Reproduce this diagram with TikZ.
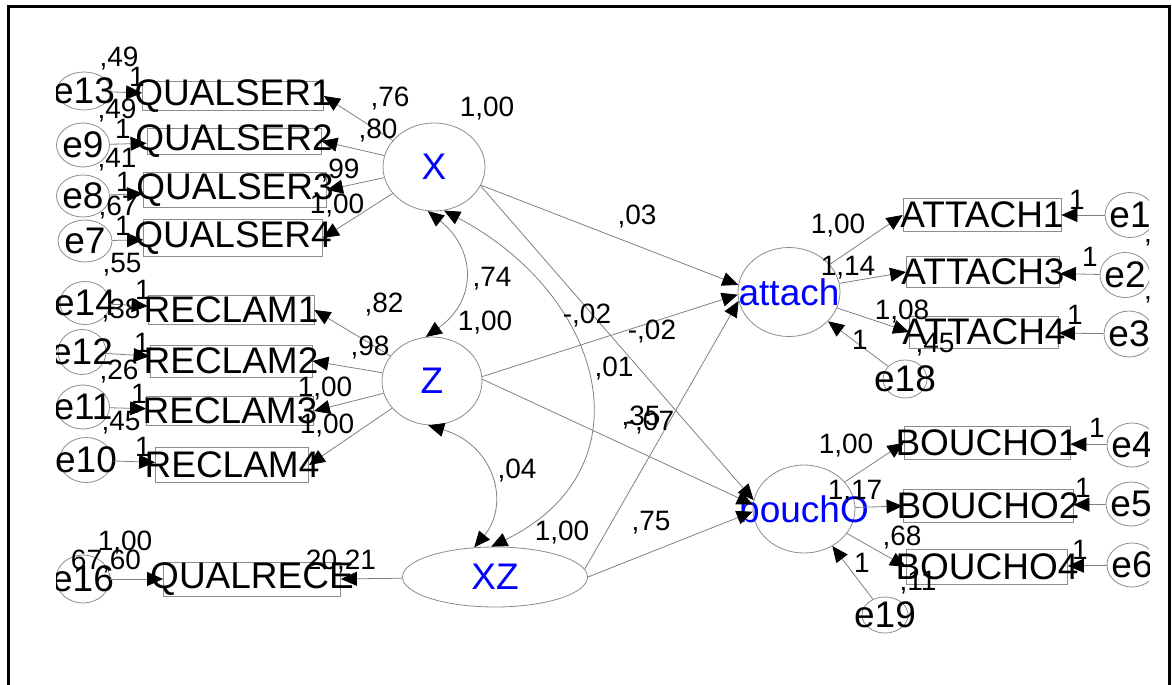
\documentclass[tikz,border=0pt]{standalone}
\usepackage{fontspec}
\setmainfont{Liberation Sans}
\usetikzlibrary{shapes.geometric,arrows.meta}

\newcommand{\bigtxt}{\fontsize{37}{37}\selectfont}
\newcommand{\numtxt}{\fontsize{28}{28}\selectfont}

\tikzset{
  box/.style = {draw = black!45, line width = .8pt, inner sep = 0pt},
  lv/.style = {draw = black!45, ellipse, line width = .8pt, inner sep = 0pt},
  num/.style = {font = \numtxt, inner sep = 0pt},
  every label/.style = {font = \bigtxt, inner sep = 0pt},
  arr/.style = {draw = black!50, line width = .8pt, -{Triangle[length = 16pt, width = 14pt, color = black]}},
  dbl/.style = {draw = black!50, line width = .8pt, {Triangle[length = 16pt, width = 14pt, color = black]}-{Triangle[length = 16pt, width = 14pt, color = black]}}
}

\begin{document}
\begin{tikzpicture}[x = 1pt, y = -1pt]
\useasboundingbox (0,0) rectangle (1172,685);
\draw [line width = 3pt] (8,685) -- (8,7) -- (1169,7) -- (1169,685);
\begin{scope}
\clip (56,0) rectangle (1149,685);
% latent variables
\node [lv, minimum width = 102pt, minimum height = 88pt, label = {[text = blue]center:X}] (X) at (434,167) {};
\node [lv, minimum width = 100pt, minimum height = 88pt, label = {[text = blue]center:Z}] (Z) at (432,381) {};
\node [lv, minimum width = 185pt, minimum height = 60pt, label = {[text = blue]center:XZ}] (XZ) at (495,577) {};
\node [lv, minimum width = 102pt, minimum height = 89pt, label = {[text = blue]center:attach}] (attach) at (789,292) {};
\node [lv, minimum width = 102pt, minimum height = 88pt, label = {[text = blue]center:bouchO}] (bouchO) at (804,509) {};
% indicators
\node [box, minimum width = 181pt, minimum height = 29pt, label = center:QUALSER1] (qs1) at (233,96) {};
\node [box, minimum width = 174pt, minimum height = 26pt, label = center:QUALSER2] (qs2) at (234,141) {};
\node [box, minimum width = 183pt, minimum height = 35pt, label = center:QUALSER3] (qs3) at (235,190) {};
\node [box, minimum width = 179pt, minimum height = 37pt, label = center:QUALSER4] (qs4) at (233,238) {};
\node [box, minimum width = 166pt, minimum height = 29pt, label = center:RECLAM1] (rc1) at (231,310) {};
\node [box, minimum width = 162pt, minimum height = 32pt, label = center:RECLAM2] (rc2) at (231,361) {};
\node [box, minimum width = 167pt, minimum height = 29pt, label = center:RECLAM3] (rc3) at (230,411) {};
\node [box, minimum width = 153pt, minimum height = 35pt, label = center:RECLAM4] (rc4) at (232,465) {};
\node [box, minimum width = 177pt, minimum height = 34pt, label = center:QUALRECE] (qr) at (252,579) {};
\node [box, minimum width = 158pt, minimum height = 33pt, label = center:ATTACH1] (at1) at (982,215) {};
\node [box, minimum width = 153pt, minimum height = 31pt, label = center:ATTACH3] (at3) at (983,272) {};
\node [box, minimum width = 149pt, minimum height = 32pt, label = center:ATTACH4] (at4) at (984,332) {};
\node [box, minimum width = 166pt, minimum height = 33pt, label = center:BOUCHO1] (bo1) at (987,443) {};
\node [box, minimum width = 170pt, minimum height = 33pt, label = center:BOUCHO2] (bo2) at (988,506) {};
\node [box, minimum width = 161pt, minimum height = 35pt, label = center:BOUCHO4] (bo4) at (987,567) {};
% errors
\node [lv, minimum width = 54pt, minimum height = 38pt, label = center:e13] (e13) at (84,91) {};
\node [lv, minimum width = 53pt, minimum height = 44pt, label = center:e9] (e9) at (83,145) {};
\node [lv, minimum width = 53pt, minimum height = 42pt, label = center:e8] (e8) at (83,196) {};
\node [lv, minimum width = 54pt, minimum height = 42pt, label = center:e7] (e7) at (85,241) {};
\node [lv, minimum width = 50pt, minimum height = 43pt, label = center:e14] (e14) at (85,303) {};
\node [lv, minimum width = 48pt, minimum height = 45pt, label = center:e12] (e12) at (82,352) {};
\node [lv, minimum width = 53pt, minimum height = 44pt, label = center:e11] (e11) at (83,407) {};
\node [lv, minimum width = 53pt, minimum height = 45pt, label = center:e10] (e10) at (86,460) {};
\node [lv, minimum width = 54pt, minimum height = 48pt, label = center:e16] (e16) at (83,579) {};
\node [lv, minimum width = 44pt, minimum height = 38pt, label = center:e18] (e18) at (905,379) {};
\node [lv, minimum width = 46pt, minimum height = 36pt, label = center:e19] (e19) at (885,615) {};
\node [lv, minimum width = 50pt, minimum height = 45pt, label = center:e1] (e1) at (1130,215) {};
\node [lv, minimum width = 50pt, minimum height = 45pt, label = center:e2] (e2) at (1125,275) {};
\node [lv, minimum width = 50pt, minimum height = 46pt, label = center:e3] (e3) at (1129,334) {};
\node [lv, minimum width = 50pt, minimum height = 44pt, label = center:e4] (e4) at (1132,445) {};
\node [lv, minimum width = 50pt, minimum height = 44pt, label = center:e5] (e5) at (1131,504) {};
\node [lv, minimum width = 50pt, minimum height = 44pt, label = center:e6] (e6) at (1132,565) {};
% measurement paths
\draw [arr] (X) -- (qs1.east);
\draw [arr] (X) -- (qs2.east);
\draw [arr] (X) -- (qs3.east);
\draw [arr] (X) -- (qs4.east);
\draw [arr] (Z) -- (rc1.east);
\draw [arr] (Z) -- (rc2.east);
\draw [arr] (Z) -- (rc3.east);
\draw [arr] (Z) -- (rc4.east);
\draw [arr] (XZ) -- (qr.east);
\draw [arr] (e13) -- (qs1);
\draw [arr] (e9) -- (qs2);
\draw [arr] (e8) -- (qs3);
\draw [arr] (e7) -- (qs4);
\draw [arr] (e14) -- (rc1);
\draw [arr] (e12) -- (rc2);
\draw [arr] (e11) -- (rc3);
\draw [arr] (e10) -- (rc4);
\draw [arr] (e16) -- (qr);
\draw [arr] (attach) -- (at1.west);
\draw [arr] (attach) -- (at3.west);
\draw [arr] (attach) -- (at4.west);
\draw [arr] (bouchO) -- (bo1.west);
\draw [arr] (bouchO) -- (bo2.west);
\draw [arr] (bouchO) -- (bo4.west);
\draw [arr] (e1) -- (at1);
\draw [arr] (e2) -- (at3);
\draw [arr] (e3) -- (at4);
\draw [arr] (e4) -- (bo1);
\draw [arr] (e5) -- (bo2);
\draw [arr] (e6) -- (bo4);
\draw [arr] (e18) -- (attach);
\draw [arr] (e19) -- (bouchO);
% structural paths
\draw [arr] (X) -- (attach.172);
\draw [arr] (X.-22) -- (bouchO.170);
\draw [arr] (Z.5) -- (attach.183);
\draw [arr] (Z.2) -- (bouchO.175);
\draw [arr] (XZ.5) -- (attach.190);
\draw [arr] (XZ.0) -- (bouchO.183);
\draw [dbl] (X.262) .. controls +(48,38) and +(52,-37) .. (Z.98);
\draw [dbl] (Z.265) .. controls +(67,20) and +(36,-43) .. (XZ.125);
\draw [dbl] (X.283) .. controls +(161,85) and +(160,-78) .. (XZ.97);
% estimates
\node [num] (v13) at (119,59) {,49};
\node [num] (w13) at (137,77) {1};
\node [num] (v9) at (117,111) {,49};
\node [num] (w9) at (123,129) {1};
\node [num] (v8) at (117,160) {,41};
\node [num] (w8) at (124,182) {1};
\node [num] (v7) at (118,208) {,67};
\node [num] (w7) at (123,226) {1};
\node [num] (v14) at (122,265) {,55};
\node [num] (w14) at (143,290) {1};
\node [num] (v12) at (121,311) {,38};
\node [num] (w12) at (142,343) {1};
\node [num] (v11) at (119,372) {,26};
\node [num] (w11) at (139,394) {1};
\node [num] (v10) at (121,423) {,45};
\node [num] (w10) at (143,447) {1};
\node [num] (l1) at (390,99) {,76};
\node [num] (l2) at (378,131) {,80};
\node [num] (l3) at (340,171) {,99};
\node [num] (l4) at (337,206) {1,00};
\node [num] (l5) at (384,305) {,82};
\node [num] (l6) at (370,348) {,98};
\node [num] (l7) at (325,389) {1,00};
\node [num] (l8) at (327,426) {1,00};
\node [num] (vX) at (487,109) {1,00};
\node [num] (vZ) at (485,323) {1,00};
\node [num] (vXZ) at (562,533) {1,00};
\node [num] (w16) at (125,543) {1,00};
\node [num] (v16) at (106,562) {67,60};
\node [num] (l9) at (341,562) {20,21};
\node [num] (cXZ) at (492,279) {,74};
\node [num] (cZXZ) at (517,471) {,04};
\node [num] (b1) at (637,217) {,03};
\node [num] (b2) at (587,316) {-,02};
\node [num] (b3) at (652,332) {-,02};
\node [num] (b4) at (614,369) {,01};
\node [num] (b5) at (641,418) {,35};
\node [num] (b6) at (650,423) {-,07};
\node [num] (b7) at (651,523) {,75};
\node [num] (r1) at (838,226) {1,00};
\node [num] (r2) at (848,268) {1,14};
\node [num] (r3) at (902,312) {1,08};
\node [num] (w18) at (860,340) {1};
\node [num] (v18) at (935,345) {,45};
\node [num] (w1) at (1077,200) {1};
\node [num] (w2) at (1090,257) {1};
\node [num] (w3) at (1075,315) {1};
\node [num] (r4) at (846,446) {1,00};
\node [num] (r5) at (855,492) {1,17};
\node [num] (r6) at (902,538) {,68};
\node [num] (w19) at (862,563) {1};
\node [num] (v19) at (918,583) {,11};
\node [num] (w4) at (1097,428) {1};
\node [num] (w5) at (1083,488) {1};
\node [num] (w6) at (1080,550) {1};
\node [num] (v2) at (1148,243) {,};
\node [num] (v3) at (1148,300) {,};
\end{scope}
\end{tikzpicture}
\end{document}
